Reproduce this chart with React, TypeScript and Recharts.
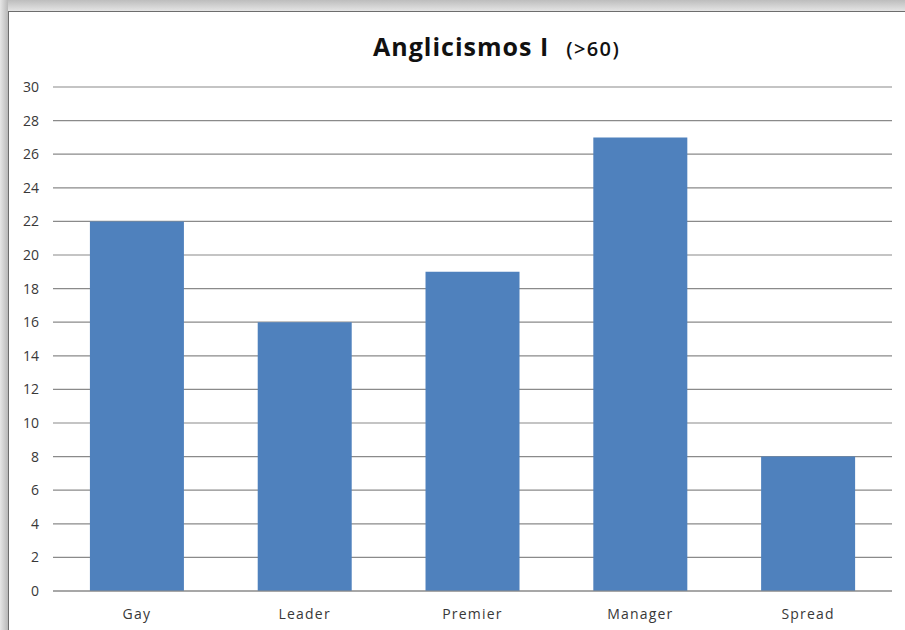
import React from "react";
import { BarChart, Bar, XAxis, YAxis, CartesianGrid } from "recharts";

const categories = ["Gay", "Leader", "Premier", "Manager", "Spread"];
const values = [22, 16, 19, 27, 8];
const yTicks = [0, 2, 4, 6, 8, 10, 12, 14, 16, 18, 20, 22, 24, 26, 28, 30];

const data = categories.map((name, i) => ({ name, value: values[i] }));

const FONT = "'Open Sans', 'DejaVu Sans', sans-serif";

export default function App() {
  return (
    <div
      style={{
        position: "absolute",
        left: 0,
        top: 0,
        width: 905,
        height: 630,
        overflow: "hidden",
        background: "linear-gradient(180deg, #bdbdbd 0px, #e4e4e4 11px)",
        fontFamily: FONT,
      }}
    >
      <div
        style={{
          position: "absolute",
          left: 0,
          top: 0,
          width: 8,
          height: 630,
          background: "linear-gradient(90deg, #e6e6e6 0px, #b8b8b8 8px)",
        }}
      />
      <div
        style={{
          position: "absolute",
          left: 8,
          top: 11,
          width: 920,
          height: 640,
          background: "#ffffff",
          borderLeft: "1px solid #6d6d6d",
          borderTop: "1px solid #6d6d6d",
        }}
      />
      <div
        style={{
          position: "absolute",
          left: 0,
          top: 0,
          width: 905,
          height: 630,
        }}
      >
        <BarChart
          width={905}
          height={630}
          data={data}
          margin={{ top: 87, right: 13, bottom: 9, left: 8 }}
          barCategoryGap="22%"
        >
          <CartesianGrid vertical={false} stroke="#8a8a8a" strokeWidth={1.2} />
          <XAxis
            dataKey="name"
            height={30}
            axisLine={{ stroke: "#8a8a8a", strokeWidth: 1.2 }}
            tickLine={false}
            tickMargin={12}
            tick={{ fill: "#383838", fontSize: 14, fontFamily: FONT, letterSpacing: 1.2 }}
            interval={0}
          />
          <YAxis
            width={45}
            domain={[0, 30]}
            ticks={yTicks}
            axisLine={false}
            tickLine={false}
            tickMargin={8}
            tick={{ fill: "#383838", fontSize: 14, fontFamily: FONT }}
            interval={0}
          />
          <Bar dataKey="value" fill="#4F81BD" isAnimationActive={false} />
        </BarChart>
      </div>
      <div
        style={{
          position: "absolute",
          left: 373,
          top: 28,
          whiteSpace: "nowrap",
          color: "#111",
          fontFamily: FONT,
          lineHeight: "36px",
        }}
      >
        <span style={{ fontSize: 25, fontWeight: 700, letterSpacing: 1 }}>Anglicismos I</span>
        <span style={{ fontSize: 20, fontWeight: 600, marginLeft: 17, letterSpacing: 1.4 }}>(&gt;60)</span>
      </div>
    </div>
  );
}
